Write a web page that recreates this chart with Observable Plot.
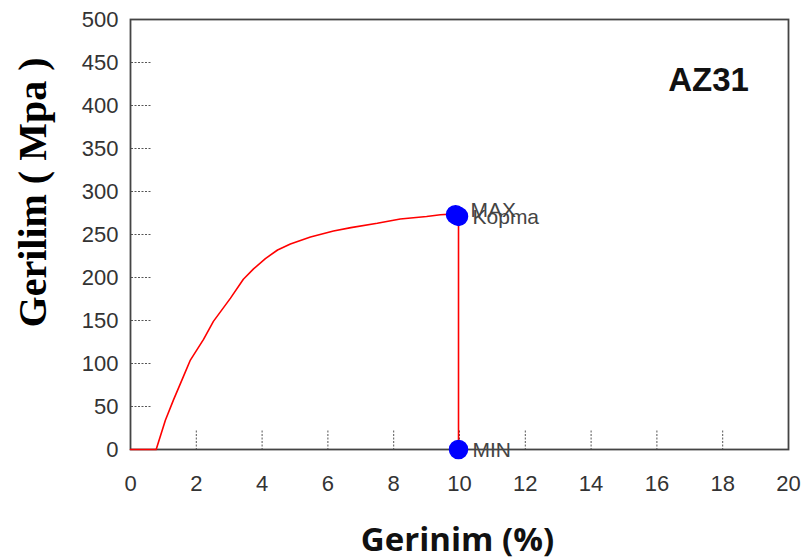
<!DOCTYPE html>
<html>
<head>
<meta charset="utf-8">
<script src="https://cdn.jsdelivr.net/npm/d3@7"></script>
<script src="https://cdn.jsdelivr.net/npm/@observablehq/plot@0.6"></script>
<style>
  html, body { margin: 0; padding: 0; background: #fff; }
  #chart svg { display: block; }
</style>
</head>
<body>
<div id="chart"></div>
<script>
// ---- data ----
const strain = [0, 0.78, 1.06, 1.31, 1.61, 1.82, 2.22, 2.52, 3.04, 3.43, 3.74, 4.1, 4.47, 4.86, 5.47, 6.17, 6.7, 7.5, 8.2, 9.0, 9.42, 9.88, 9.97, 9.97];
const stress = [0, 0, 34, 58, 85, 104, 128, 149, 176, 198, 210, 222, 232, 239, 247, 254, 258, 263, 268, 271, 273, 274, 273, 0];

const pointNames = ["MAX", "Kopma", "MIN"];
const pointStrain = [9.88, 9.97, 9.97];
const pointStress = [273, 271, 0];

const xTicks = [0, 2, 4, 6, 8, 10, 12, 14, 16, 18, 20];
const xInnerTicks = [2, 4, 6, 8, 10, 12, 14, 16, 18];
const yTicks = [0, 50, 100, 150, 200, 250, 300, 350, 400, 450, 500];
const yInnerTicks = [50, 100, 150, 200, 250, 300, 350, 400, 450];

const xTitle = "Gerinim (%)";
const yTitle = "Gerilim ( Mpa )";
const materialName = "AZ31";

// ---- tables built from arrays ----
const curve = strain.map((s, i) => ({strain: s, stress: stress[i]}));
const points = pointNames.map((n, i) => ({name: n, strain: pointStrain[i], stress: pointStress[i]}));

const chart = Plot.plot({
  width: 803,
  height: 560,
  marginLeft: 130,
  marginRight: 15,
  marginTop: 19,
  marginBottom: 111,
  style: {fontFamily: "'Liberation Sans', Arial, sans-serif", background: "#fff"},
  x: {domain: [0, 20]},
  y: {domain: [0, 500]},
  marks: [
    // inward dotted ticks
    Plot.axisY(yInnerTicks, {anchor: "right", frameAnchor: "left", tickSize: 20, fill: "none", stroke: "#555", strokeDasharray: "2 1.5", label: null}),
    Plot.axisX(xInnerTicks, {anchor: "top", frameAnchor: "bottom", tickSize: 20, fill: "none", stroke: "#555", strokeDasharray: "2 1.5", label: null}),
    // tick labels
    Plot.axisY(yTicks, {tickSize: 0, tickPadding: 12, fontSize: 22, fill: "#333", label: null}),
    Plot.axisX(xTicks, {tickSize: 0, tickPadding: 26, fontSize: 22, fill: "#333", label: null}),
    Plot.frame({stroke: "#444", strokeWidth: 1.8}),
    // curve
    Plot.line(curve, {x: "strain", y: "stress", stroke: "red", strokeWidth: 1.6}),
    // points
    Plot.dot(points, {x: "strain", y: "stress", r: 9, fill: "blue", stroke: "blue"}),
    Plot.text(points, {filter: (d) => d.name === "MAX", x: "strain", y: "stress", text: "name", dx: 15, dy: -4, textAnchor: "start", fontSize: 21, fill: "#444"}),
    Plot.text(points, {filter: (d) => d.name !== "MAX", x: "strain", y: "stress", text: "name", dx: 14, dy: 1, textAnchor: "start", fontSize: 21, fill: "#444"}),
    // titles
    Plot.text([yTitle], {frameAnchor: "left", textAnchor: "middle", lineAnchor: "middle", dx: -97, dy: -42, rotate: -90, fontSize: 40, fontWeight: "bold", fontFamily: "'Liberation Serif', 'Times New Roman', serif", fill: "#000"}),
    Plot.text([xTitle], {frameAnchor: "bottom", textAnchor: "middle", lineAnchor: "middle", dx: -2, dy: 91, fontSize: 33, fontWeight: "bold", fontFamily: "'Open Sans', sans-serif", fill: "#111"}),
    Plot.text([materialName], {frameAnchor: "top-right", textAnchor: "middle", lineAnchor: "middle", dx: -80, dy: 61, fontSize: 33, fontWeight: "bold", fill: "#111"})
  ]
});
document.getElementById("chart").appendChild(chart);
</script>
</body>
</html>
